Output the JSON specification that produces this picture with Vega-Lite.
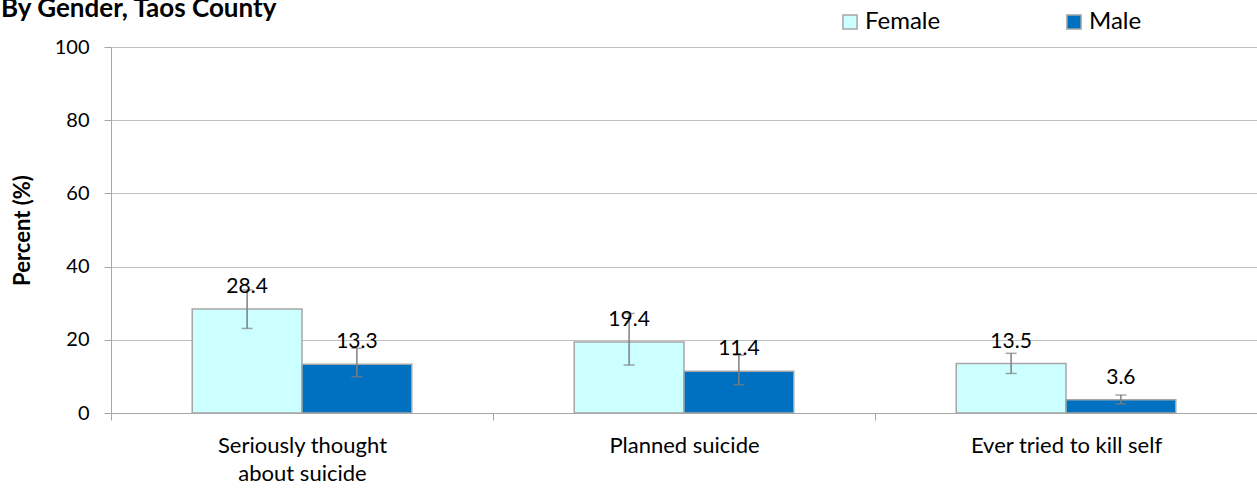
{
  "$schema": "https://vega.github.io/schema/vega-lite/v6.json",
  "autosize": "none",
  "width": 1146,
  "height": 366,
  "padding": {"left": 111, "top": 47, "right": 0, "bottom": 82},
  "background": "white",
  "title": {
    "text": "By Gender, Taos County",
    "anchor": "start",
    "frame": "group",
    "dx": -110,
    "dy": 33,
    "offset": 0,
    "baseline": "alphabetic",
    "font": "Lato",
    "fontSize": 26,
    "fontWeight": "bold",
    "color": "black"
  },
  "config": {
    "view": {"stroke": null},
    "font": "Lato",
    "axis": {
      "labelFont": "Lato",
      "titleFont": "Lato",
      "labelColor": "black",
      "titleColor": "black",
      "domainColor": "#A6A6A6",
      "tickColor": "#A6A6A6",
      "gridColor": "#C0C0C0"
    }
  },
  "data": {
    "values": [
      {"category": "Seriously thought about suicide", "gender": "Female", "value": 28.4, "lo": 23.1, "hi": 33.6},
      {"category": "Seriously thought about suicide", "gender": "Male", "value": 13.3, "lo": 9.9, "hi": 17.7},
      {"category": "Planned suicide", "gender": "Female", "value": 19.4, "lo": 13.1, "hi": 27.2},
      {"category": "Planned suicide", "gender": "Male", "value": 11.4, "lo": 7.7, "hi": 15.8},
      {"category": "Ever tried to kill self", "gender": "Female", "value": 13.5, "lo": 10.8, "hi": 16.3},
      {"category": "Ever tried to kill self", "gender": "Male", "value": 3.6, "lo": 2.5, "hi": 4.9}
    ]
  },
  "encoding": {
    "x": {
      "field": "category",
      "type": "nominal",
      "sort": null,
      "scale": {"paddingInner": 0, "paddingOuter": 0},
      "axis": {
        "title": null,
        "labelAngle": 0,
        "labelFontSize": 22,
        "labelPadding": 15,
        "labelLineHeight": 28,
        "labelLimit": 0,
        "tickSize": 7,
        "tickBand": "extent",
        "labelExpr": "datum.value == 'Seriously thought about suicide' ? ['Seriously thought', 'about suicide'] : datum.value"
      }
    },
    "xOffset": {
      "field": "gender",
      "type": "nominal",
      "sort": ["Female", "Male"],
      "scale": {"paddingInner": 0, "paddingOuter": 0.74}
    }
  },
  "layer": [
    {
      "mark": {"type": "bar", "stroke": "#A6A6A6", "strokeWidth": 1.5},
      "encoding": {
        "y": {
          "field": "value",
          "type": "quantitative",
          "scale": {"domain": [0, 100]},
          "axis": {
            "title": "Percent (%)",
            "titleFontSize": 22,
            "titleFontWeight": "bold",
            "titlePadding": 20,
            "labelFontSize": 20,
            "labelPadding": 15,
            "values": [0, 20, 40, 60, 80, 100],
            "tickSize": 7,
            "grid": true
          }
        },
        "color": {
          "field": "gender",
          "type": "nominal",
          "scale": {"domain": ["Female", "Male"], "range": ["#CCFFFF", "#0070C0"]},
          "legend": {
            "title": null,
            "orient": "none",
            "legendX": 727,
            "legendY": -37,
            "direction": "horizontal",
            "columns": 2,
            "columnPadding": 121,
            "symbolType": "square",
            "symbolSize": 200,
            "symbolStrokeColor": "#A6A6A6",
            "symbolStrokeWidth": 1.5,
            "labelFontSize": 24,
            "labelColor": "black",
            "labelOffset": 3
          }
        }
      }
    },
    {
      "mark": {"type": "rule", "color": "#7F7F7F", "strokeWidth": 1.5},
      "encoding": {
        "y": {"field": "lo", "type": "quantitative"},
        "y2": {"field": "hi"}
      }
    },
    {
      "mark": {"type": "tick", "color": "#7F7F7F", "thickness": 1.5, "size": 11, "orient": "horizontal"},
      "encoding": {"y": {"field": "lo", "type": "quantitative"}}
    },
    {
      "mark": {"type": "tick", "color": "#7F7F7F", "thickness": 1.5, "size": 11, "orient": "horizontal"},
      "encoding": {"y": {"field": "hi", "type": "quantitative"}}
    },
    {
      "mark": {"type": "text", "dy": -22, "baseline": "middle", "fontSize": 21, "font": "Lato", "color": "black"},
      "encoding": {
        "y": {"field": "value", "type": "quantitative"},
        "text": {"field": "value", "type": "quantitative", "format": ".1f"}
      }
    }
  ]
}
